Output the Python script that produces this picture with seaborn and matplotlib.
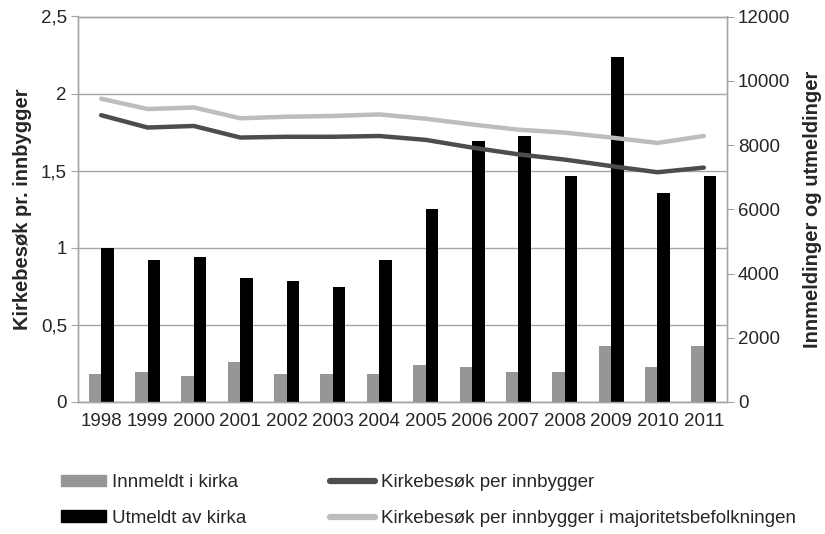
import pandas as pd
import matplotlib
matplotlib.use('Agg')
import matplotlib.pyplot as plt
import seaborn as sns
from matplotlib.patches import Patch
from matplotlib.lines import Line2D

years = ['1998', '1999', '2000', '2001', '2002', '2003', '2004',
         '2005', '2006', '2007', '2008', '2009', '2010', '2011']
innmeldt = [870, 940, 800, 1230, 870, 870, 870, 1160, 1090, 940, 940, 1740, 1090, 1740]
utmeldt = [4790, 4430, 4500, 3850, 3760, 3570, 4430, 6010, 8120, 8270, 7040, 10730, 6520, 7040]
kirkebesok = [1.86, 1.78, 1.79, 1.715, 1.72, 1.72, 1.725, 1.70, 1.65, 1.606, 1.572, 1.53, 1.49, 1.52]
majoritet = [1.967, 1.90, 1.91, 1.84, 1.85, 1.855, 1.865, 1.837, 1.80, 1.766, 1.747, 1.715, 1.68, 1.725]

left_ticks = [0, 0.5, 1, 1.5, 2, 2.5]
left_labels = ['0', '0,5', '1', '1,5', '2', '2,5']
right_ticks = [0, 2000, 4000, 6000, 8000, 10000, 12000]

bar_names = ['Innmeldt i kirka', 'Utmeldt av kirka']
line_names = ['Kirkebesøk per innbygger', 'Kirkebesøk per innbygger i majoritetsbefolkningen']

sns.set_style('white')
plt.rcParams['font.family'] = ['Liberation Sans', 'DejaVu Sans']

bars = pd.DataFrame({'year': years * 2,
                     'antall': innmeldt + utmeldt,
                     'serie': [bar_names[0]] * len(years) + [bar_names[1]] * len(years)})
lines = pd.DataFrame({'year': years * 2,
                      'besok': kirkebesok + majoritet,
                      'serie': [line_names[0]] * len(years) + [line_names[1]] * len(years)})

grid_c = '#a6a6a6'
bar_colors = ['#969696', '#000000']
line_colors = ['#4d4d4d', '#bdbdbd']
fs = 13.5

fig = plt.figure(figsize=(8.25, 5.34), dpi=100)
rect = [78 / 825, 1 - 402 / 534, (727 - 78) / 825, (402 - 16.5) / 534]
ax = fig.add_axes(rect)
ax2 = ax.twinx()

# bars on the right axis
sns.barplot(data=bars, x='year', y='antall', hue='serie', palette=bar_colors,
            width=0.54, saturation=1, ax=ax2, legend=False, edgecolor='none')
ax2.set_ylim(0, 12000)
ax2.set_yticks(right_ticks)
ax2.set_yticklabels([str(t) for t in right_ticks])
ax2.set_ylabel('Innmeldinger og utmeldinger', fontweight='bold', fontsize=14.5, labelpad=9)
ax2.set_xlabel('')

# left axis: grid + ticks
ax.set_ylim(0, 2.5)
ax.set_yticks(left_ticks)
ax.set_yticklabels(left_labels)
ax.yaxis.grid(True, color=grid_c, lw=1)
ax.set_ylabel('Kirkebesøk pr. innbygger', fontweight='bold', fontsize=14.5, labelpad=6)

# lines on a transparent axis on top, sharing the left scale
ax3 = fig.add_axes(rect, sharex=ax, sharey=ax)
ax3.patch.set_visible(False)
sns.lineplot(data=lines, x='year', y='besok', hue='serie', palette=line_colors,
             lw=3.2, ax=ax3, legend=False, sort=False)
ax3.axis('off')
ax.set_ylim(0, 2.5)
ax.set_xlim(-0.5, len(years) - 0.5)

ax.set_xticks(range(len(years)))
ax.set_xticklabels(years)
ax.set_xticks([i - 0.5 for i in range(len(years) + 1)], minor=True)
ax.tick_params(axis='x', which='major', length=0, pad=8, labelsize=fs, labelbottom=True)
ax.tick_params(axis='x', which='minor', length=5, color=grid_c, direction='out')
ax.tick_params(axis='y', length=5, color=grid_c, direction='out', labelsize=fs, pad=3)
ax2.tick_params(axis='y', length=5, color=grid_c, direction='out', labelsize=fs, pad=3)

for a in (ax, ax2):
    for s in a.spines.values():
        s.set_color(grid_c)
        s.set_linewidth(1)

handles = [Patch(color=bar_colors[0]), Patch(color=bar_colors[1]),
           Line2D([], [], color=line_colors[0], lw=4.5, solid_capstyle='round'),
           Line2D([], [], color=line_colors[1], lw=4.5, solid_capstyle='round')]
fig.legend(handles, bar_names + line_names, loc='upper left', bbox_to_anchor=(61 / 825, 1 - 474 / 534),
           ncol=2, frameon=False, fontsize=fs, handlelength=2.4, handleheight=0.55,
           handletextpad=0.3, columnspacing=4.5, labelspacing=1.0, borderpad=0, borderaxespad=0)

fig.savefig('out.png', dpi=100)
